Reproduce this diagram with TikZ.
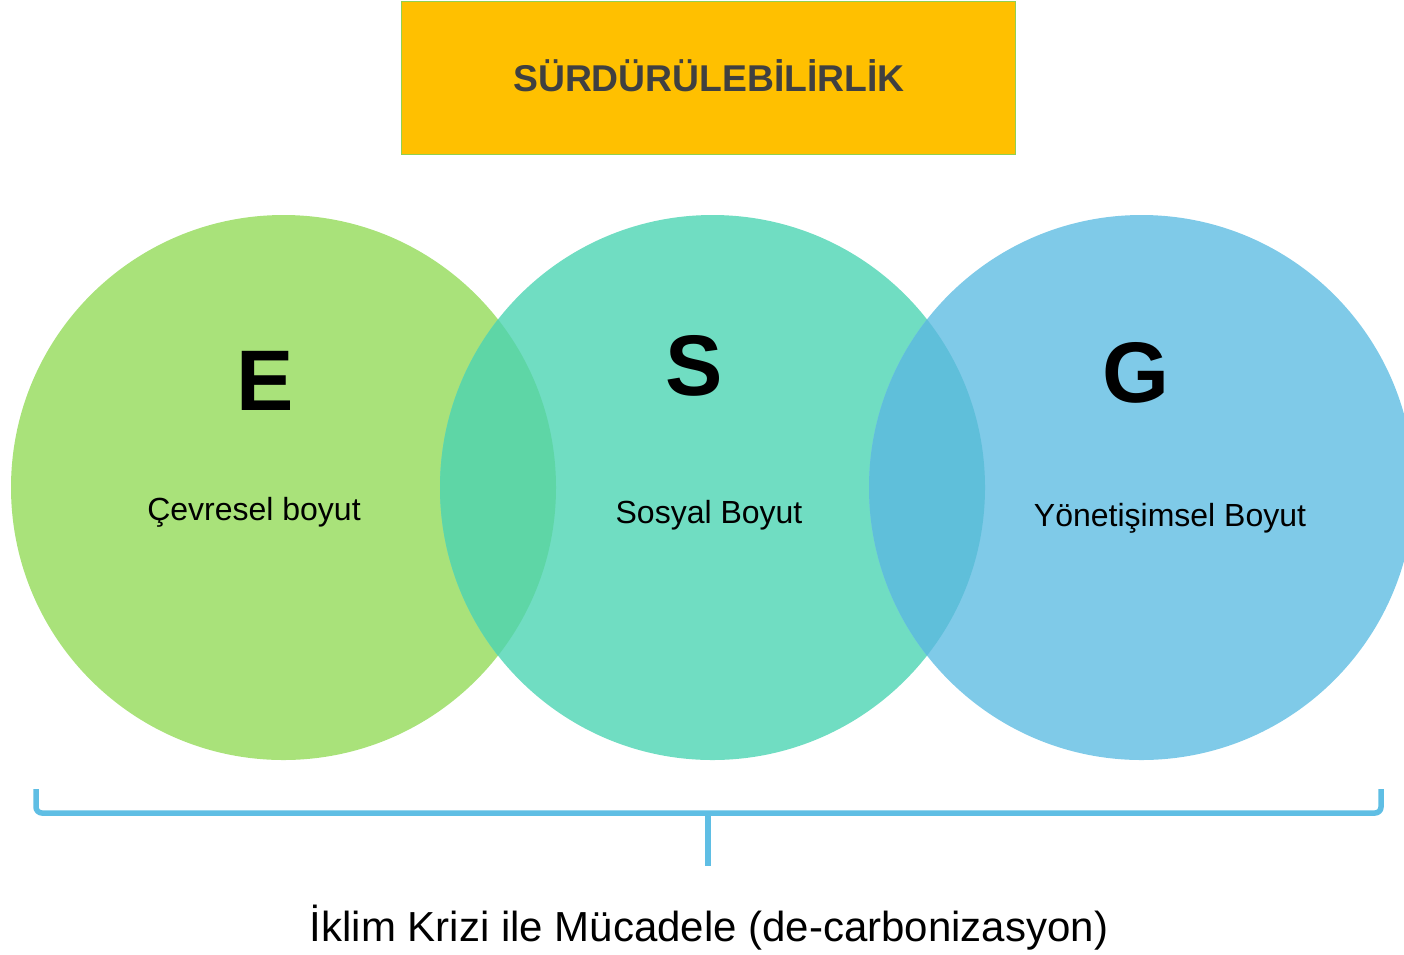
\documentclass[tikz,border=0pt]{standalone}
\usepackage{fontspec}
\setmainfont{Liberation Sans}
\definecolor{cgreen}{RGB}{169,226,122}
\definecolor{cteal}{RGB}{112,221,194}
\definecolor{cblue}{RGB}{127,202,232}
\definecolor{lensGT}{RGB}{94,214,166}
\definecolor{lensTB}{RGB}{95,191,218}
\definecolor{hdr}{RGB}{255,192,0}
\definecolor{hdrborder}{RGB}{146,208,80}
\definecolor{hdrtext}{RGB}{64,64,64}
\definecolor{brace}{RGB}{95,190,228}
\begin{document}
\begin{tikzpicture}[x=1pt,y=-1pt,
  bigletter/.style={font=\fontsize{86}{90}\selectfont\bfseries, text=black, inner sep=0pt},
  dimlabel/.style={font=\fontsize{32}{36}\selectfont, text=black, inner sep=0pt},
  bracestyle/.style={draw=brace, line width=5.5pt}]
\useasboundingbox (0,0) rectangle (1404,954);
\begin{scope}
\clip (0,0) rectangle (1404,954);
% header
\node[draw=hdrborder, line width=1pt, fill=hdr, minimum width=614pt, minimum height=153pt, inner sep=0pt] (hdr) at (708,78) {};
\node[font=\fontsize{37.3}{40}\selectfont\bfseries, text=hdrtext, inner sep=0pt] (hdrtxt) at (709,76) {SÜRDÜRÜLEBİLİRLİK};
% circles
\coordinate (cE) at (283.5,487.5);
\coordinate (cS) at (712.5,487.5);
\coordinate (cG) at (1141.5,487.5);
\fill[cgreen] (cE) circle (272.5);
\fill[cteal] (cS) circle (272.5);
\fill[cblue] (cG) circle (272.5);
\begin{scope}
\clip (cE) circle (272.5);
\fill[lensGT] (cS) circle (272.5);
\end{scope}
\begin{scope}
\clip (cS) circle (272.5);
\fill[lensTB] (cG) circle (272.5);
\end{scope}
\end{scope}
% letters
\node[bigletter] (E) at (265,381) {E};
\node[bigletter] (S) at (694,366) {S};
\node[bigletter] (G) at (1136,373) {G};
% labels
\node[dimlabel] (lE) at (254,512) {Çevresel boyut};
\node[dimlabel] (lS) at (709,515) {Sosyal Boyut};
\node[dimlabel] (lG) at (1170,518) {Yönetişimsel Boyut};
% brace
\coordinate (bl) at (36,789);
\coordinate (br) at (1381,789);
\coordinate (bm) at (708,813);
\coordinate (bt) at (708,866);
\draw[bracestyle, rounded corners=6pt] (bl) -- (36,813) -- (1381,813) -- (br);
\draw[bracestyle] (bm) -- (bt);
% bottom text
\node[font=\fontsize{42}{46}\selectfont, text=black, inner sep=0pt] (bottom) at (709,928) {İklim Krizi ile Mücadele (de-carbonizasyon)};
\end{tikzpicture}
\end{document}
